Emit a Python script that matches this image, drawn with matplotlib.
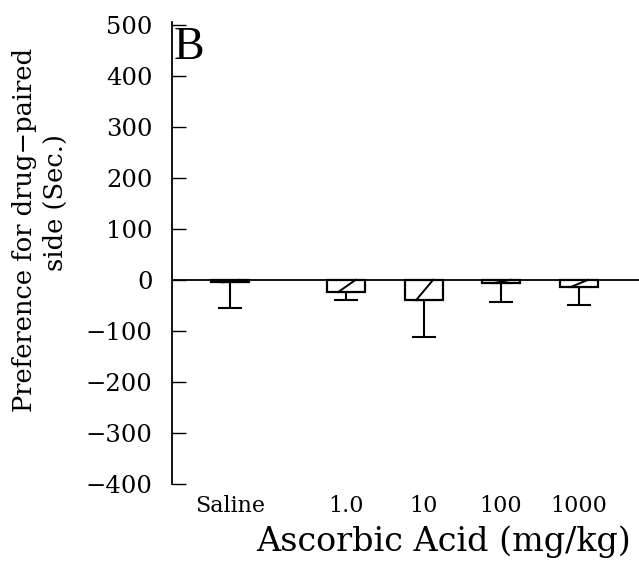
import numpy as np
import matplotlib
matplotlib.use("Agg")
import matplotlib.pyplot as plt

# Data
groups = ["Saline", "1.0", "10", "100", "1000"]
positions = [0, 1.5, 2.5, 3.5, 4.5]
means = [-5, -23.5, -40, -6.5, -14]
sem = [50, 16.5, 72, 37.5, 36]
yticks = [-400, -300, -200, -100, 0, 100, 200, 300, 400, 500]

bar_w = 0.49
serif = "DejaVu Serif"

fig = plt.figure(figsize=(6.39, 5.66), dpi=100)
ax = fig.add_axes([0.269, 0.145, 0.731, 0.816])

# bars with a single diagonal stroke
ax.bar(positions, means, width=bar_w, color="white", edgecolor="black", linewidth=1.6, zorder=2)
for p, m in zip(positions, means):
    ax.plot([p - 0.2 * bar_w, p + 0.25 * bar_w], [m, 0], color="black", lw=1.4, zorder=3)

# lower error bars only
ax.errorbar(positions, means, yerr=[sem, [0] * len(sem)], fmt="none", ecolor="black",
            elinewidth=1.5, capsize=8.5, capthick=1.5, zorder=1)

ax.axhline(0, color="black", lw=1.3, zorder=4)

ax.set_xlim(-0.75, 5.28)
ax.set_ylim(-400, 505)
for s in ["top", "right", "bottom"]:
    ax.spines[s].set_visible(False)
ax.spines["left"].set_linewidth(1.3)

ax.set_yticks(yticks)
ax.set_yticklabels([str(v).replace("-", "\u2212") for v in yticks], family=serif, fontsize=17.5)
ax.tick_params(axis="y", direction="in", length=10, width=1.0, pad=14)

ax.set_xticks(positions)
ax.set_xticklabels(groups, family=serif, fontsize=16)
ax.tick_params(axis="x", length=0, pad=8)

fig.text(444 / 639, 1 - 542 / 566, "Ascorbic Acid (mg/kg)", family=serif, fontsize=24,
         ha="center", va="center")

# two-line y label, second line sits a bit higher
fig.text(25 / 639, 1 - 230 / 566, "Preference for drug\u2212paired", rotation=90,
         ha="center", va="center", family=serif, fontsize=18.5)
fig.text(55 / 639, 1 - 203 / 566, "side (Sec.)", rotation=90,
         ha="center", va="center", family=serif, fontsize=18.5)

ax.text(0.003, 0.99, "B", transform=ax.transAxes, family="Liberation Serif",
        fontsize=33, va="top", ha="left")

fig.savefig("out.png", dpi=100)
